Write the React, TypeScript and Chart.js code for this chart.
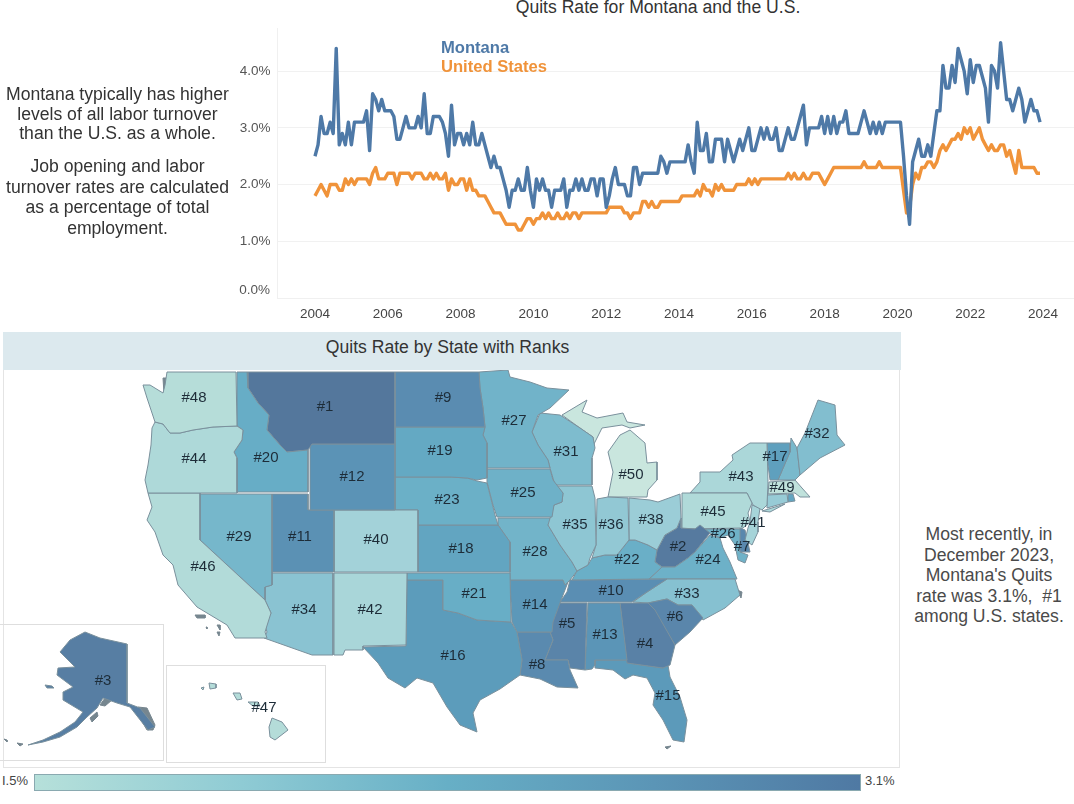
import React, { useEffect, useRef } from "react";
import { Chart, registerables } from "chart.js";

Chart.register(...registerables);

const FONT = "'Liberation Sans', Arial, sans-serif";

// Monthly quits rate, Jan 2004 .. Dec 2023
const startYear = 2004;
const montana = [
  2.5,2.7,3.2,2.9,2.9,3.1,2.9,4.4,2.7,2.9,2.7,3.1,
  2.7,3.1,3.1,3.1,3.1,3.3,2.6,3.6,3.5,3.3,3.5,3.3,
  3.3,3.3,3.2,2.8,2.8,3.0,3.2,3.0,3.0,3.0,3.2,3.0,
  3.6,2.9,2.9,3.2,3.2,3.2,3.1,2.9,2.5,3.4,2.7,2.9,
  2.9,2.7,2.9,2.7,3.1,2.7,2.7,2.9,2.7,2.5,2.3,2.5,
  2.3,2.3,2.1,1.9,1.6,1.9,1.9,2.1,1.9,1.9,2.3,1.9,
  1.6,2.1,1.9,2.1,1.9,1.9,1.6,1.9,1.9,1.9,2.1,1.6,
  1.9,1.9,2.1,1.9,2.1,1.9,1.9,2.1,2.1,1.8,2.1,2.1,
  1.6,1.8,2.1,2.3,2.0,2.0,2.0,1.8,1.8,2.3,2.3,2.0,
  2.2,2.2,2.2,2.2,2.2,2.2,2.5,2.4,2.2,2.4,2.4,2.4,
  2.4,2.4,2.4,2.7,2.4,2.2,3.1,2.6,2.6,2.9,2.4,2.4,
  2.8,2.8,2.8,2.4,2.8,2.6,2.4,2.6,2.8,2.6,2.8,3.0,
  2.6,2.6,2.8,3.0,2.8,3.0,2.8,2.8,3.0,2.6,2.6,2.8,
  3.0,2.8,2.8,3.0,3.2,3.4,2.7,3.0,3.0,3.0,3.0,3.2,
  2.9,3.2,2.9,3.2,2.9,3.1,3.1,3.3,2.9,2.9,2.9,2.9,
  3.1,3.3,3.1,2.9,3.1,2.9,3.1,2.9,3.1,3.1,3.1,3.1,
  3.1,3.1,2.5,1.8,1.3,2.4,2.6,2.8,2.5,2.5,2.7,2.5,
  2.9,3.3,3.3,4.1,3.7,3.7,4.1,3.8,4.4,4.2,4.0,3.6,
  4.2,3.8,4.1,4.1,3.9,3.7,3.1,4.1,4.0,3.7,4.5,4.0,
  3.5,3.5,3.3,3.5,3.7,3.5,3.1,3.3,3.5,3.3,3.3,3.1,
];
const unitedStates = [
  1.8,1.9,2.0,1.9,1.8,2.0,2.0,2.0,1.9,1.9,2.1,2.0,
  2.1,2.0,2.1,2.1,2.1,2.1,2.0,2.2,2.3,2.1,2.1,2.1,
  2.2,2.2,2.2,2.0,2.2,2.2,2.2,2.2,2.1,2.2,2.2,2.2,
  2.1,2.1,2.2,2.1,2.2,2.1,2.1,2.2,1.9,2.1,2.0,2.0,
  2.1,2.1,1.9,2.1,1.9,1.9,1.8,1.8,1.8,1.7,1.6,1.5,
  1.5,1.5,1.4,1.3,1.3,1.3,1.3,1.2,1.2,1.3,1.4,1.4,
  1.3,1.4,1.4,1.5,1.4,1.5,1.4,1.4,1.5,1.4,1.4,1.5,
  1.4,1.5,1.5,1.4,1.5,1.5,1.5,1.5,1.5,1.5,1.5,1.5,
  1.5,1.6,1.6,1.6,1.6,1.6,1.5,1.5,1.4,1.5,1.5,1.5,
  1.7,1.7,1.6,1.7,1.6,1.6,1.7,1.7,1.7,1.7,1.7,1.7,
  1.7,1.8,1.8,1.8,1.8,1.8,1.9,1.8,2.0,1.9,1.9,1.8,
  2.0,1.9,2.0,1.9,1.9,1.9,1.9,2.0,2.0,2.0,2.0,2.1,
  2.0,2.1,2.0,2.1,2.1,2.1,2.1,2.1,2.1,2.1,2.1,2.1,
  2.2,2.1,2.2,2.1,2.1,2.2,2.1,2.1,2.2,2.2,2.2,2.1,
  2.0,2.1,2.2,2.3,2.3,2.3,2.3,2.3,2.3,2.3,2.3,2.3,
  2.3,2.4,2.3,2.3,2.3,2.3,2.4,2.3,2.3,2.3,2.3,2.3,
  2.3,2.3,1.9,1.5,1.6,2.0,2.2,2.1,2.3,2.3,2.4,2.4,
  2.3,2.4,2.6,2.7,2.6,2.7,2.8,2.8,2.9,2.8,3.0,2.9,
  3.0,2.8,2.9,3.0,2.8,2.7,2.6,2.7,2.6,2.6,2.7,2.7,
  2.5,2.6,2.4,2.2,2.6,2.3,2.3,2.3,2.3,2.3,2.2,2.2,
];
const yearTicks = [2004,2006,2008,2010,2012,2014,2016,2018,2020,2022,2024];
const rateTicks = [0,1,2,3,4];

type Pt = [number, number];

// State outlines in map units
const outlines: Record<string, Pt[][]> = {
  WA: [[[167,372],[236,372],[237,426],[213,427],[193,430],[180,433],[170,433],[163,424],[155,422],[151,410],[147,398],[143,385],[150,385],[163,393],[165,385]]],
  OR: [[[237,426],[243,430],[242,440],[234,452],[237,458],[237,493],[148,493],[145,480],[148,465],[151,445],[152,428],[155,422],[163,424],[170,433],[180,433],[193,430],[213,427]]],
  CA: [[[148,493],[200,493],[200,540],[265,600],[271,613],[265,632],[267,638],[235,638],[227,625],[197,607],[178,585],[173,565],[163,555],[155,532],[147,520],[152,507]]],
  NV: [[[200,494],[272,494],[272,585],[265,587],[265,600],[200,540]]],
  ID: [[[237,372],[247,372],[248,388],[258,403],[269,415],[267,430],[280,445],[287,452],[308,450],[308,492],[237,492],[237,458],[234,452],[242,440],[243,430],[237,426]]],
  MT: [[[247,372],[395,372],[395,444],[312,444],[308,450],[287,452],[280,445],[267,430],[269,415],[258,403],[248,388]]],
  WY: [[[310,444],[395,444],[395,510],[310,510]]],
  UT: [[[272,494],[308,494],[308,510],[334,510],[334,572],[272,572]]],
  CO: [[[334,510],[418,510],[418,572],[334,572]]],
  AZ: [[[272,573],[333,573],[333,655],[312,655],[264,638],[267,632],[265,625],[271,613],[265,600],[265,587],[272,585]]],
  NM: [[[334,573],[407,573],[406,645],[363,646],[363,650],[345,650],[343,655],[334,655]]],
  ND: [[[395,372],[479,372],[480,388],[483,408],[485,427],[395,427]]],
  SD: [[[395,427],[485,427],[483,435],[487,443],[487,478],[477,480],[467,478],[450,477],[395,477]]],
  NE: [[[395,477],[450,477],[467,478],[477,481],[487,483],[495,515],[498,525],[418,525],[418,510],[395,510]]],
  KS: [[[418,525],[498,525],[505,535],[510,542],[510,572],[418,572]]],
  OK: [[[407,573],[510,573],[511,622],[493,621],[477,620],[458,613],[443,610],[443,580],[407,580]]],
  TX: [[[407,580],[443,580],[443,610],[458,613],[477,620],[493,621],[511,622],[517,632],[522,660],[520,675],[500,689],[480,700],[473,713],[477,732],[460,725],[447,707],[433,683],[417,678],[405,688],[388,678],[378,663],[363,647],[406,646]]],
  MN: [[[479,372],[508,370],[510,377],[530,382],[547,388],[569,390],[550,408],[538,415],[532,432],[538,445],[548,460],[550,468],[487,468],[487,443],[483,435],[485,427],[483,408],[480,388]]],
  IA: [[[487,469],[550,469],[553,480],[563,493],[562,502],[554,505],[552,517],[497,517],[493,505],[487,482]]],
  WI: [[[540,413],[560,415],[580,428],[593,437],[595,448],[592,458],[592,485],[555,485],[550,468],[548,460],[538,445],[532,432]]],
  IL: [[[555,486],[592,486],[595,498],[596,545],[590,558],[588,565],[577,571],[572,562],[560,545],[548,525],[554,505],[562,502],[563,493]]],
  IN: [[[597,499],[608,497],[628,498],[629,540],[617,555],[605,555],[592,558],[596,545]]],
  OH: [[[629,498],[650,500],[658,502],[680,494],[681,518],[677,528],[665,535],[657,550],[648,545],[635,540],[629,540]]],
  KY: [[[592,558],[605,555],[617,555],[629,540],[635,540],[648,545],[657,550],[655,562],[662,567],[649,579],[572,580],[577,571],[588,565]]],
  TN: [[[570,580],[667,579],[647,592],[632,602],[560,602],[567,592]]],
  MO: [[[498,518],[552,518],[548,525],[560,545],[572,562],[577,571],[570,580],[565,585],[563,580],[510,580],[510,542],[505,535],[498,525]]],
  AR: [[[510,580],[563,580],[565,585],[568,582],[560,603],[553,622],[552,632],[517,632],[512,622]]],
  LA: [[[517,632],[550,632],[553,640],[545,660],[568,660],[570,670],[578,688],[557,687],[540,679],[520,675],[522,660]]],
  MS: [[[555,603],[587,603],[585,670],[570,668],[568,660],[545,660],[553,640],[550,632],[552,622]]],
  AL: [[[588,603],[620,603],[627,660],[595,660],[595,665],[592,669],[585,670]]],
  GA: [[[620,603],[648,603],[655,610],[675,645],[670,665],[663,668],[627,663]]],
  SC: [[[648,603],[667,599],[678,605],[692,605],[703,618],[690,632],[675,645],[655,613]]],
  NC: [[[633,602],[647,592],[667,579],[735,579],[740,595],[725,608],[703,620],[692,605],[678,605],[667,599],[648,603]]],
  VA: [[[649,579],[662,567],[675,567],[688,558],[695,552],[710,535],[720,538],[723,548],[730,562],[737,579]]],
  WV: [[[655,562],[657,550],[665,535],[677,528],[681,518],[681,528],[695,529],[700,525],[710,533],[695,552],[688,558],[675,567],[662,567]]],
  PA: [[[682,493],[747,493],[752,503],[748,513],[750,522],[743,528],[682,529]]],
  NY: [[[690,493],[700,482],[700,472],[720,472],[733,460],[732,455],[750,443],[767,443],[768,483],[767,505],[762,510],[753,505],[747,493]],[[762,511],[785,504],[770,512]]],
  ME: [[[805,433],[818,400],[835,405],[837,435],[845,445],[820,458],[800,475],[797,448]]],
  VT: [[[767,443],[790,443],[790,452],[778,480],[770,480],[768,465]]],
  NH: [[[791,438],[797,448],[800,475],[795,480],[778,480],[790,452]]],
  MA: [[[769,482],[795,480],[802,488],[810,497],[800,497],[795,493],[768,494]]],
  CT: [[[767,495],[787,494],[788,502],[767,508]]],
  RI: [[[788,494],[793,494],[795,501],[788,502]]],
  NJ: [[[752,505],[760,508],[758,522],[758,532],[752,545],[745,540],[748,528],[750,522]]],
  DE: [[[740,528],[745,530],[748,543],[750,552],[740,552]]],
  MD: [[[700,529],[743,529],[740,552],[748,555],[745,563],[738,560],[735,545],[728,535],[720,538],[710,533]]],
  MI: [[[608,497],[613,472],[608,452],[620,435],[630,430],[645,443],[647,463],[657,462],[657,480],[648,490],[647,497]],[[562,415],[587,400],[582,412],[597,418],[623,413],[627,422],[645,425],[630,428],[622,425],[602,428],[592,448],[593,437],[580,428]]],
  FL: [[[595,660],[627,660],[628,663],[663,668],[668,665],[670,677],[680,697],[687,720],[684,742],[673,740],[663,720],[653,705],[655,693],[647,678],[633,675],[625,679],[613,670],[595,668]]],
  AK: [[[85,632],[100,638],[127,644],[127,703],[140,708],[155,727],[148,730],[130,707],[117,703],[103,698],[97,708],[87,717],[77,727],[60,737],[43,742],[28,745],[43,740],[60,732],[75,722],[83,712],[63,700],[63,692],[73,687],[57,675],[58,668],[75,667],[60,652],[70,640]],[[45,685],[52,686],[54,688],[47,688]]],
  HI: [[[272,718],[282,722],[288,730],[275,740],[270,737],[269,727]],[[248,702],[258,702],[260,706],[253,706]],[[233,693],[240,693],[242,699],[237,700]],[[209,683],[216,684],[216,688],[210,689]],[[201,688],[204,687],[203,690]]],
};

// Sounds and small islands the map shows in grey
const waterShapes: Pt[][] = [
  [[163,378],[168,378],[170,392],[165,406],[161,404],[164,394]],
  [[138,707],[147,708],[155,725],[153,730],[147,730],[140,718]],
  [[90,718],[97,712],[98,716],[92,722]],
  [[100,705],[105,698],[112,700],[105,706]],
  [[195,615],[205,615],[205,618],[197,618]],
  [[217,625],[220,625],[220,630]],
  [[217,632],[220,632],[219,636]],
  [[206,627],[207,627],[207,629]],
  [[4,739],[7,740],[7,742]],
  [[17,743],[23,744],[20,746]],
  [[665,747],[671,746],[667,749]],
  [[737,590],[742,592],[741,598]],
];

const ranks: Record<string, number> = {
  MT:1,WV:2,AK:3,GA:4,MS:5,SC:6,DE:7,LA:8,ND:9,TN:10,UT:11,WY:12,AL:13,AR:14,FL:15,TX:16,VT:17,KS:18,SD:19,ID:20,
  OK:21,KY:22,NE:23,VA:24,IA:25,MD:26,MN:27,MO:28,NV:29,NH:30,WI:31,ME:32,NC:33,AZ:34,IL:35,IN:36,CT:37,OH:38,RI:18,
  CO:40,NJ:41,NM:42,NY:43,OR:44,PA:45,CA:46,HI:47,WA:48,MA:49,MI:50,
};

// Where each rank label sits
const labelText = ["#48","#44","#20","#1","#9","#19","#12","#23","#29","#11","#40","#18","#46","#34","#42","#21","#16","#27","#31","#25","#35","#36","#28","#38","#50","#22","#10","#14","#8","#5","#13","#4","#6","#33","#24","#2","#45","#43","#32","#17","#49","#41","#26","#7","#15","#3","#47"];
const labelX = [194,194,266,325,443,440,352,447,239,300,376,461,203,304,370,474,453,514,566,523,575,611,535,651,631,627,611,535,537,567,605,645,675,687,708,678,713,741,817,775,782,753,723,742,668,103,264];
const labelY = [398,459,458,407,398,451,477,500,537,537,540,549,567,610,610,594,656,421,452,493,525,525,552,520,475,560,591,605,665,624,635,644,617,594,560,547,512,477,434,457,488,523,534,547,696,681,708];

const rampRanks = [1,5,9,12,16,20,28,34,40,44,48,50];
const rampColors = ["#54779c","#5a84a9","#5a8cb1","#5b93b6","#5c9cbb","#67adc6","#72b4c9","#8ac3d2","#a3d2d9","#aed9d9","#b6ddd9","#c9e6de"];

function rankColor(rank: number) {
  let i = 0;
  while (i < rampRanks.length - 2 && rank > rampRanks[i + 1]) i++;
  const t = (rank - rampRanks[i]) / (rampRanks[i + 1] - rampRanks[i]);
  const h = (c: string, p: number) => parseInt(c.slice(p, p + 2), 16);
  const mix = (p: number) => Math.round(h(rampColors[i], p) * (1 - t) + h(rampColors[i + 1], p) * t);
  return `rgb(${mix(1)},${mix(3)},${mix(5)})`;
}

const mapLabelPlugin = {
  id: "mapLabels",
  afterDatasetsDraw(chart: any) {
    const { ctx, scales } = chart;
    ctx.save();
    ctx.font = `15px ${FONT}`;
    ctx.fillStyle = "#1d2c38";
    ctx.textAlign = "center";
    ctx.textBaseline = "middle";
    labelText.forEach((t, i) => {
      ctx.fillText(t, scales.x.getPixelForValue(labelX[i]), scales.y.getPixelForValue(labelY[i]));
    });
    ctx.restore();
  },
};

const zeroTickPlugin = {
  id: "zeroTick",
  afterDraw(chart: any) {
    const { ctx, scales } = chart;
    ctx.save();
    ctx.font = `13.5px ${FONT}`;
    ctx.fillStyle = "#555";
    ctx.textAlign = "right";
    ctx.textBaseline = "middle";
    ctx.fillText("0.0%", 270, scales.y.getPixelForValue(0) - 8);
    ctx.restore();
  },
};

const abs = (left: number, top: number, extra: React.CSSProperties = {}): React.CSSProperties => ({
  position: "absolute", left, top, fontFamily: FONT, ...extra,
});

function Para({ left, top, width, lines, color, gap }: { left: number; top: number; width: number; lines: string[]; color: string; gap: number }) {
  return (
    <>
      {lines.map((l, i) => (
        <div key={i} style={abs(left, top + i * gap, { width, textAlign: "center", fontSize: 17.6, lineHeight: "20px", color, whiteSpace: "pre" })}>{l}</div>
      ))}
    </>
  );
}

export default function App() {
  const lineRef = useRef<HTMLCanvasElement>(null);
  const mapRef = useRef<HTMLCanvasElement>(null);

  useEffect(() => {
    document.body.style.margin = "0";
    const toSeries = (vals: number[]) => vals.map((y, i) => ({ x: startYear + i / 12, y }));
    const lineChart = new Chart(lineRef.current!, {
      type: "line",
      data: {
        datasets: [
          { label: "Montana", data: toSeries(montana), borderColor: "#4e79a7", borderWidth: 3.4, pointRadius: 0, tension: 0, borderJoinStyle: "round" },
          { label: "United States", data: toSeries(unitedStates), borderColor: "#f0933a", borderWidth: 3.4, pointRadius: 0, tension: 0, borderJoinStyle: "round" },
        ],
      } as any,
      options: {
        animation: false,
        responsive: false,
        layout: { padding: { top: 28, right: 0, left: 0, bottom: 0 } },
        plugins: { legend: { display: false }, tooltip: { enabled: false } },
        scales: {
          x: {
            type: "linear",
            min: 2002.97,
            max: 2024.85,
            afterFit: (s: any) => { s.height = 32; },
            afterBuildTicks: (s: any) => { s.ticks = yearTicks.map((value) => ({ value })); },
            grid: { display: false },
            border: { color: "#f0f0f0" },
            ticks: { autoSkip: false, maxRotation: 0, padding: 0, color: "#444", font: { family: FONT, size: 13.5 }, callback: (v: any) => String(v) },
          },
          y: {
            min: 0,
            max: 4.76,
            afterFit: (s: any) => { s.width = 277.5; },
            afterBuildTicks: (s: any) => { s.ticks = rateTicks.map((value) => ({ value })); },
            grid: { color: "#f1f1f1", drawTicks: false },
            border: { color: "#f0f0f0" },
            ticks: { padding: 7, color: "#555", font: { family: FONT, size: 13.5 }, callback: (v: any) => (v === 0 ? "" : `${Number(v).toFixed(1)}%`) },
          },
        },
      } as any,
      plugins: [zeroTickPlugin],
    });

    const poly = (label: string, pts: Pt[], fill: string, stroke: string) => ({
      label,
      data: [...pts, pts[0]].map(([x, y]) => ({ x, y })),
      showLine: true,
      fill: "shape",
      backgroundColor: fill,
      borderColor: stroke,
      borderWidth: 1,
      pointRadius: 0,
      tension: 0,
    });
    const datasets: any[] = [];
    Object.keys(outlines).forEach((code) => {
      outlines[code].forEach((pts) => datasets.push(poly(code, pts, rankColor(ranks[code]), "#7a909c")));
    });
    waterShapes.forEach((pts) => datasets.push(poly("water", pts, "#76868f", "#76868f")));

    const mapChart = new Chart(mapRef.current!, {
      type: "scatter",
      data: { datasets },
      options: {
        animation: false,
        responsive: false,
        layout: { padding: 0 },
        plugins: { legend: { display: false }, tooltip: { enabled: false } },
        scales: {
          x: { type: "linear", display: false, min: 0, max: 905 },
          y: { type: "linear", display: false, reverse: true, min: 370, max: 770 },
        },
      } as any,
      plugins: [mapLabelPlugin],
    });

    return () => { lineChart.destroy(); mapChart.destroy(); };
  }, []);

  return (
    <div style={{ position: "absolute", left: 0, top: 0, width: 1074, height: 804, overflow: "hidden", background: "#fff" }}>
      <div style={abs(300, -3, { width: 716, textAlign: "center", fontSize: 17.6, lineHeight: "20px", color: "#333" })}>Quits Rate for Montana and the U.S.</div>
      <canvas ref={lineRef} width={1074} height={330} style={{ position: "absolute", left: 0, top: 0 }} />
      <div style={abs(441, 39, { fontSize: 16.6, fontWeight: 700, lineHeight: "18px", color: "#4e79a7" })}>Montana</div>
      <div style={abs(441, 58, { fontSize: 16.6, fontWeight: 700, lineHeight: "18px", color: "#f0933a" })}>United States</div>

      <Para left={0} top={84} width={235} color="#333" gap={19.5} lines={["Montana typically has higher", "levels of all labor turnover", "than the U.S. as a whole."]} />
      <Para left={0} top={156} width={235} color="#333" gap={20.5} lines={["Job opening and labor", "turnover rates are calculated", "as a percentage of total", "employment."]} />
      <Para left={904} top={524} width={170} color="#4a4a4a" gap={20.5} lines={["Most recently, in", "December 2023,", "Montana's Quits", "rate was 3.1%,  #1", "among U.S. states."]} />

      <div style={abs(3, 332, { width: 898, height: 38, background: "#dce9ee", boxSizing: "border-box", paddingRight: 9, textAlign: "center", fontSize: 17.6, lineHeight: "30px", color: "#333" })}>Quits Rate by State with Ranks</div>
      <div style={abs(3, 370, { width: 897, height: 398, border: "1px solid #e4e4e4", borderTop: "none", boxSizing: "border-box" })} />
      <div style={abs(-1, 624, { width: 165, height: 137, border: "1px solid #dedede", boxSizing: "border-box" })} />
      <div style={abs(166, 665, { width: 160, height: 98, border: "1px solid #dedede", boxSizing: "border-box" })} />
      <canvas ref={mapRef} width={905} height={400} style={{ position: "absolute", left: 0, top: 370 }} />

      <div style={abs(2, 772, { fontSize: 13, lineHeight: "18px", color: "#444" })}>I.5%</div>
      <div style={abs(34, 774, { width: 827, height: 17, boxSizing: "border-box", border: "1px solid #8aa9b0", background: "linear-gradient(to right, #b6e0da 0%, #8fcbd4 25%, #67afc6 50%, #5b95b6 75%, #4f79a3 100%)" })} />
      <div style={abs(865, 772, { fontSize: 13, lineHeight: "18px", color: "#444" })}>3.1%</div>
    </div>
  );
}
